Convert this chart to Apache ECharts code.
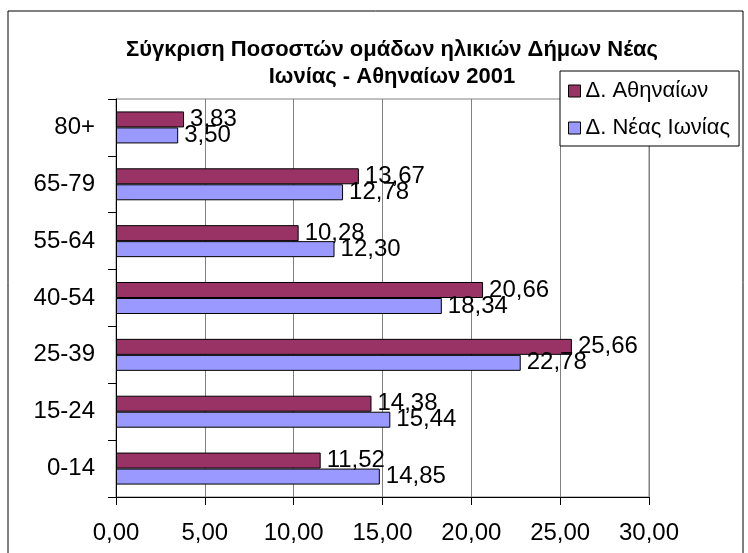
<!DOCTYPE html>
<html>
<head>
<meta charset="utf-8">
<script src="https://cdn.jsdelivr.net/npm/echarts@6/dist/echarts.min.js"></script>
<style>
  html, body { margin: 0; padding: 0; background: #fff; }
  #chart { width: 748px; height: 553px; }
</style>
</head>
<body>
<div id="chart"></div>
<script>
// age groups, bottom to top as the category axis draws them
const ageGroups = ['0-14', '15-24', '25-39', '40-54', '55-64', '65-79', '80+']
const athensValues = [11.52, 14.38, 25.66, 20.66, 10.28, 13.67, 3.83]
const neaIoniaValues = [14.85, 15.44, 22.78, 18.34, 12.30, 12.78, 3.50]
const xTicks = { min: 0, max: 30, step: 5 }

const fmt = v => v.toFixed(2).replace('.', ',')
const font = 'Liberation Sans, Arial, sans-serif'

const chart = echarts.init(document.getElementById('chart'))

const labelStyle = {
  show: true,
  position: 'right',
  distance: 6,
  color: '#000',
  fontFamily: font,
  fontSize: 24,
  formatter: p => fmt(p.value)
}

const option = {
  backgroundColor: '#fff',
  animation: false,
  graphic: [
    {
      type: 'rect',
      z: -1,
      shape: { x: 8, y: 11, width: 735, height: 600 },
      style: { fill: 'none', stroke: '#000', lineWidth: 1 }
    }
  ],
  title: {
    text: 'Σύγκριση Ποσοστών ομάδων ηλικιών Δήμων Νέας\nΙωνίας - Αθηναίων 2001',
    left: 387,
    top: 31,
    textAlign: 'center',
    textStyle: {
      fontFamily: font,
      fontSize: 22,
      fontWeight: 'bold',
      color: '#000',
      lineHeight: 27
    }
  },
  legend: {
    data: ['Δ. Αθηναίων', 'Δ. Νέας Ιωνίας'],
    orient: 'vertical',
    left: 560,
    top: 71,
    padding: [9, 9, 7, 8],
    itemGap: 15,
    itemWidth: 12,
    itemHeight: 12,
    icon: 'rect',
    backgroundColor: '#fff',
    borderColor: '#000',
    borderWidth: 1,
    itemStyle: { borderColor: '#000', borderWidth: 1 },
    textStyle: { fontFamily: font, fontSize: 22, color: '#000', lineHeight: 22 },
    z: 10
  },
  grid: {
    left: 116,
    right: 99,
    top: 99,
    bottom: 56,
    show: true,
    borderColor: '#808080',
    borderWidth: 1
  },
  xAxis: {
    type: 'value',
    min: xTicks.min,
    max: xTicks.max,
    interval: xTicks.step,
    axisLine: { show: true, lineStyle: { color: '#000', width: 1 } },
    axisTick: { show: true, length: 8, lineStyle: { color: '#000' } },
    splitLine: { show: true, lineStyle: { color: '#808080', width: 1 } },
    axisLabel: {
      margin: 24,
      color: '#000',
      fontFamily: font,
      fontSize: 24,
      formatter: v => fmt(v)
    }
  },
  yAxis: {
    type: 'category',
    data: ageGroups,
    axisLine: { show: true, lineStyle: { color: '#000', width: 1 } },
    axisTick: { show: true, length: 8, inside: false, lineStyle: { color: '#000' } },
    splitLine: { show: false },
    axisLabel: {
      margin: 21,
      color: '#000',
      fontFamily: font,
      fontSize: 24
    }
  },
  series: [
    {
      name: 'Δ. Αθηναίων',
      type: 'bar',
      data: athensValues,
      barWidth: 16,
      barGap: '0%',
      itemStyle: { color: '#993366', borderColor: '#000', borderWidth: 1 },
      label: labelStyle
    },
    {
      name: 'Δ. Νέας Ιωνίας',
      type: 'bar',
      data: neaIoniaValues,
      barWidth: 16,
      barGap: '0%',
      itemStyle: { color: '#9999FF', borderColor: '#000', borderWidth: 1 },
      label: labelStyle
    }
  ]
}

chart.setOption(option)
</script>
</body>
</html>
